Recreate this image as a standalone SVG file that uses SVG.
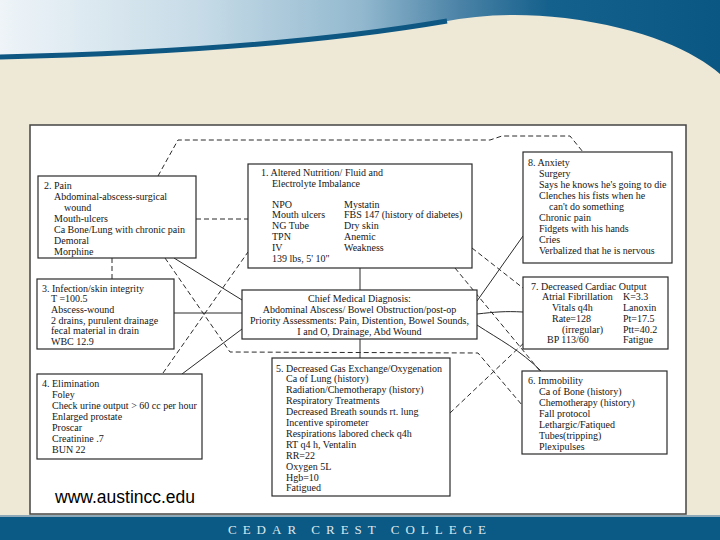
<svg xmlns="http://www.w3.org/2000/svg" width="720" height="540" viewBox="0 0 720 540">
<defs>
<linearGradient id="hg" x1="0" y1="0" x2="720" y2="0" gradientUnits="userSpaceOnUse">
<stop offset="0" stop-color="#eef4f8"/>
<stop offset="0.28" stop-color="#c6dbe7"/>
<stop offset="0.5" stop-color="#93b9cf"/>
<stop offset="0.64" stop-color="#4a82a6"/>
<stop offset="0.76" stop-color="#15618d"/>
<stop offset="1" stop-color="#0b5783"/>
</linearGradient>
<style>
.bx{fill:#fff;stroke:#2a2a2a;stroke-width:1.2}
.t{font-family:"Liberation Serif",serif;font-size:10px;fill:#161616}
.c{text-anchor:middle}
.s{fill:none;stroke:#2a2a2a;stroke-width:1}
.d{fill:none;stroke:#2a2a2a;stroke-width:1;stroke-dasharray:5 3}
</style>
</defs>
<rect width="720" height="540" fill="#eee8d7"/>
<path d="M0,0 H720 V74 C695,52 645,28 565,18 C522,13 482,14 442,22 C332,40 180,52 0,56 Z" fill="url(#hg)"/>
<path d="M0,57 C180,53 330,41 447,21" fill="none" stroke="#0d5782" stroke-width="5"/>
<rect x="30" y="125" width="656" height="389" fill="#fff" stroke="#444" stroke-width="1.5"/>
<rect x="0" y="516" width="720" height="24" fill="#0b5a85"/>
<rect x="0" y="515" width="720" height="2" fill="#8fa9b8"/>
<text x="360" y="534" text-anchor="middle" font-family="Liberation Serif, serif" font-size="13" letter-spacing="6" fill="#dde8ee">CEDAR CREST COLLEGE</text>

<g id="connectors">
<path class="s" d="M360,268 V290"/>
<path class="s" d="M360,339 V358"/>
<path class="s" d="M174,313 H242"/>
<path class="s" d="M174,258 L242,300"/>
<path class="s" d="M182,374 L242,329"/>
<path class="s" d="M477,314 C495,312 505,311 523,312"/>
<path class="s" d="M477,301 L523,236"/>
<path class="s" d="M477,325 C500,340 520,350 541,371"/>
<path class="d" d="M158,176 L178,140 L490,140 L502,136 L570,136 L583,152"/>
<path class="d" d="M196,219 H248"/>
<path class="d" d="M112,258 V279"/>
<path class="d" d="M165,258 L230,352 L478,353 L522,405"/>
<path class="d" d="M163,373 L248,252"/>
<path class="d" d="M472,248 L523,288"/>
<path class="d" d="M455,268 L540,371"/>
<path class="d" d="M450,413 L527,340"/>
</g>

<g id="n2">
<rect class="bx" x="38" y="176" width="158" height="82"/>
<text class="t" x="44" y="188.5">2. Pain</text>
<text class="t" x="54" y="199.5">Abdominal-abscess-surgical</text>
<text class="t" x="64" y="210.5">wound</text>
<text class="t" x="54" y="221.5">Mouth-ulcers</text>
<text class="t" x="54" y="232.5">Ca Bone/Lung with chronic pain</text>
<text class="t" x="54" y="243.5">Demoral</text>
<text class="t" x="54" y="254.5">Morphine</text>
</g>

<g id="n1">
<rect class="bx" x="248" y="164" width="224" height="104"/>
<text class="t" x="261" y="175.5">1. Altered Nutrition/ Fluid and</text>
<text class="t" x="272" y="186.5" fill="#444">Electrolyte Imbalance</text>
<text class="t" x="272" y="207.5">NPO</text>
<text class="t" x="272" y="218.3">Mouth ulcers</text>
<text class="t" x="272" y="229.1">NG Tube</text>
<text class="t" x="272" y="239.9">TPN</text>
<text class="t" x="272" y="250.7">IV</text>
<text class="t" x="272" y="261.5">139 lbs, 5' 10"</text>
<text class="t" x="344" y="207.5">Mystatin</text>
<text class="t" x="344" y="218.3">FBS 147 (history of diabetes)</text>
<text class="t" x="344" y="229.1">Dry skin</text>
<text class="t" x="344" y="239.9">Anemic</text>
<text class="t" x="344" y="250.7">Weakness</text>
</g>

<g id="n8">
<rect class="bx" x="523" y="152" width="149" height="111"/>
<text class="t" x="528" y="165.5">8. Anxiety</text>
<text class="t" x="539" y="176.5">Surgery</text>
<text class="t" x="539" y="187.5">Says he knows he's going to die</text>
<text class="t" x="539" y="198.5">Clenches his fists when he</text>
<text class="t" x="549" y="209.5">can't do something</text>
<text class="t" x="539" y="220.5">Chronic pain</text>
<text class="t" x="539" y="231.5">Fidgets with his hands</text>
<text class="t" x="539" y="242.5">Cries</text>
<text class="t" x="539" y="253.5">Verbalized that he is nervous</text>
</g>

<g id="n3">
<rect class="bx" x="37" y="279" width="137" height="70"/>
<text class="t" x="42" y="291.5">3. Infection/skin integrity</text>
<text class="t" x="51" y="302.2">T =100.5</text>
<text class="t" x="51" y="312.9">Abscess-wound</text>
<text class="t" x="51" y="323.6">2 drains, purulent drainage</text>
<text class="t" x="51" y="334.3">fecal material in drain</text>
<text class="t" x="51" y="345">WBC 12.9</text>
</g>

<g id="center">
<rect class="bx" x="242" y="290" width="235" height="49"/>
<text class="t c" x="359.5" y="301.5">Chief Medical Diagnosis:</text>
<text class="t c" x="359.5" y="312.5">Abdominal Abscess/ Bowel Obstruction/post-op</text>
<text class="t c" x="359.5" y="323.5">Priority Assessments: Pain, Distention, Bowel Sounds,</text>
<text class="t c" x="359.5" y="334.5">I and O, Drainage, Abd Wound</text>
</g>

<g id="n7">
<rect class="bx" x="523" y="277" width="145" height="72"/>
<text class="t" x="531" y="289.5">7. Decreased Cardiac Output</text>
<text class="t" x="542" y="300.3">Atrial Fibrillation</text>
<text class="t" x="552" y="311">Vitals q4h</text>
<text class="t" x="552" y="321.8">Rate=128</text>
<text class="t" x="562" y="332.5">(irregular)</text>
<text class="t" x="547" y="343.3">BP 113/60</text>
<text class="t" x="623" y="300.3">K=3.3</text>
<text class="t" x="623" y="311">Lanoxin</text>
<text class="t" x="623" y="321.8">Pt=17.5</text>
<text class="t" x="623" y="332.5">Ptt=40.2</text>
<text class="t" x="623" y="343.3">Fatigue</text>
</g>

<g id="n4">
<rect class="bx" x="37" y="374" width="165" height="85"/>
<text class="t" x="42" y="386.5">4. Elimination</text>
<text class="t" x="52" y="397.5">Foley</text>
<text class="t" x="52" y="408.5">Check urine output &gt; 60 cc per hour</text>
<text class="t" x="52" y="419.5">Enlarged prostate</text>
<text class="t" x="52" y="430.5">Proscar</text>
<text class="t" x="52" y="441.5">Creatinine .7</text>
<text class="t" x="52" y="452.5">BUN 22</text>
</g>

<g id="n5">
<rect class="bx" x="272" y="358" width="178" height="138"/>
<text class="t" x="276" y="371.5">5. Decreased Gas Exchange/Oxygenation</text>
<text class="t" x="286" y="382.4">Ca of Lung (history)</text>
<text class="t" x="286" y="393.3">Radiation/Chemotherapy (history)</text>
<text class="t" x="286" y="404.2">Respiratory Treatments</text>
<text class="t" x="286" y="415.1">Decreased Breath sounds rt. lung</text>
<text class="t" x="286" y="426">Incentive spirometer</text>
<text class="t" x="286" y="436.9">Respirations labored check q4h</text>
<text class="t" x="286" y="447.8">RT q4 h, Ventalin</text>
<text class="t" x="286" y="458.7">RR=22</text>
<text class="t" x="286" y="469.6">Oxygen 5L</text>
<text class="t" x="286" y="480.5">Hgb=10</text>
<text class="t" x="286" y="491.4">Fatigued</text>
</g>

<g id="n6">
<rect class="bx" x="522" y="371" width="145" height="83"/>
<text class="t" x="528" y="383.5">6. Immobility</text>
<text class="t" x="539" y="394.5">Ca of Bone (history)</text>
<text class="t" x="539" y="405.5">Chemotherapy (history)</text>
<text class="t" x="539" y="416.5">Fall protocol</text>
<text class="t" x="539" y="427.5">Lethargic/Fatiqued</text>
<text class="t" x="539" y="438.5">Tubes(tripping)</text>
<text class="t" x="539" y="449.5">Plexipulses</text>
</g>

<text x="55" y="503" font-family="Liberation Sans, Arial, sans-serif" font-size="17.5" fill="#000">www.austincc.edu</text>
</svg>
